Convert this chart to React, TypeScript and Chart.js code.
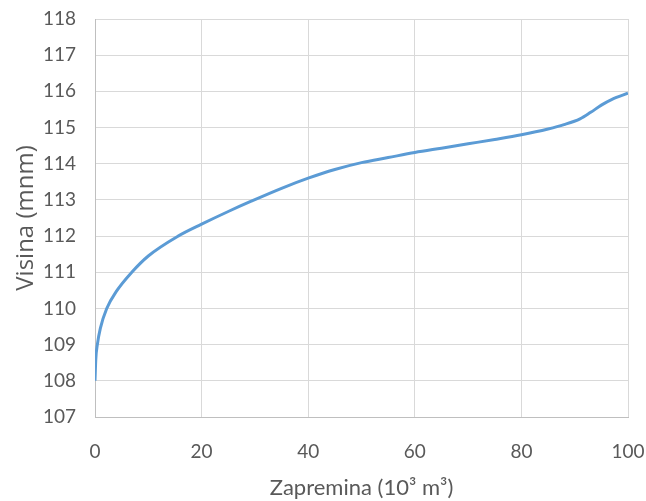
import React, { useEffect, useRef } from "react";
import { Chart, registerables } from "chart.js";

Chart.register(...registerables);

const volumes = [0, 0.15, 0.44, 1, 2.2, 4, 6.9, 10, 15.6, 20, 25, 29.1, 35, 40, 45, 50, 55, 60, 65, 70, 75, 80, 85, 88, 91, 93, 95, 97, 100];
const heights = [108, 108.6, 109, 109.45, 110, 110.47, 111, 111.45, 112, 112.33, 112.68, 112.95, 113.32, 113.6, 113.84, 114.03, 114.17, 114.31, 114.43, 114.55, 114.67, 114.8, 114.96, 115.08, 115.24, 115.42, 115.62, 115.78, 115.95];
const xTicks = [0, 20, 40, 60, 80, 100];
const yTicks = [107, 108, 109, 110, 111, 112, 113, 114, 115, 116, 117, 118];

const FONT = "Lato, 'Open Sans', sans-serif";
const TITLE_FONT = "'Open Sans', Lato, sans-serif";
const TEXT = "#595959";

export default function App() {
  const ref = useRef<HTMLCanvasElement | null>(null);
  useEffect(() => {
    document.body.style.margin = "0";
    const ctx = ref.current!.getContext("2d")!;
    const chart = new Chart(ctx, {
      type: "scatter",
      data: {
        datasets: [
          {
            data: volumes.map((v, i) => ({ x: v, y: heights[i] })),
            showLine: true,
            borderColor: "#5b9bd5",
            backgroundColor: "#5b9bd5",
            borderWidth: 3,
            pointRadius: 0,
            cubicInterpolationMode: "monotone",
          },
        ],
      },
      options: {
        animation: false,
        responsive: false,
        maintainAspectRatio: false,
        layout: { padding: { top: 19, right: 18, left: 0, bottom: 0 } },
        plugins: { legend: { display: false }, tooltip: { enabled: false } },
        scales: {
          x: {
            type: "linear",
            min: 0,
            max: 100,
            afterBuildTicks: (s: any) => {
              s.ticks = xTicks.map((v) => ({ value: v }));
            },
            afterFit: (s: any) => {
              s.height = 84;
              s.paddingLeft = 0;
              s.paddingRight = 0;
            },
            grid: { color: "#d9d9d9", lineWidth: 1, drawTicks: false },
            border: { color: "#bfbfbf", width: 1 },
            ticks: { color: TEXT, font: { family: FONT, size: 19 }, padding: 23, maxRotation: 0 },
            title: {
              display: true,
              text: "Zapremina (10³ m³)",
              color: TEXT,
              font: { family: FONT, size: 22 },
              padding: { top: 0, bottom: 0 },
            },
          },
          y: {
            type: "linear",
            min: 107,
            max: 118,
            afterBuildTicks: (s: any) => {
              s.ticks = yTicks.map((v) => ({ value: v }));
            },
            afterFit: (s: any) => {
              s.width = 95;
              s.paddingTop = 0;
              s.paddingBottom = 0;
            },
            grid: { color: "#d9d9d9", lineWidth: 1, drawTicks: false },
            border: { color: "#bfbfbf", width: 1 },
            ticks: { color: TEXT, font: { family: FONT, size: 19 }, padding: 19 },
            title: {
              display: true,
              text: "Visina (mnm)",
              color: TEXT,
              font: { family: TITLE_FONT, size: 24 },
              padding: { top: 12, bottom: 0 },
            },
          },
        },
      },
    });
    return () => chart.destroy();
  }, []);
  return (
    <div style={{ width: 646, height: 501, background: "#fff" }}>
      <canvas ref={ref} width={646} height={501} style={{ display: "block" }} />
    </div>
  );
}
